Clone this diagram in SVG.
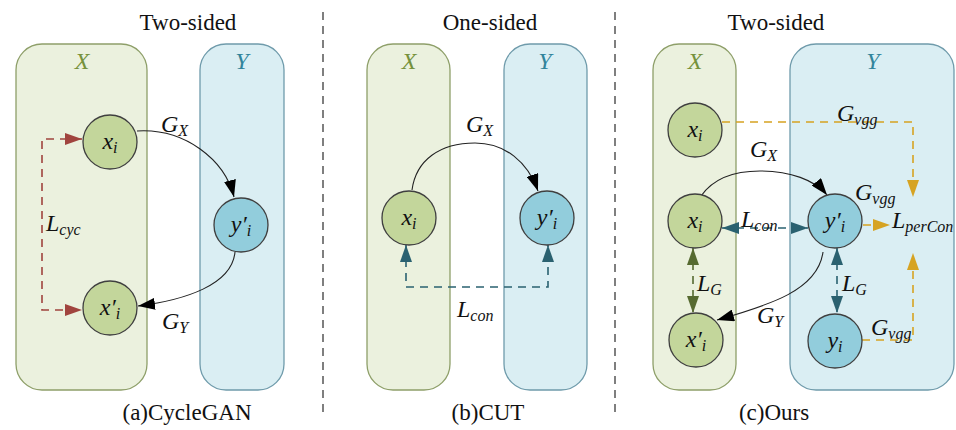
<svg xmlns="http://www.w3.org/2000/svg" width="956" height="430" viewBox="0 0 956 430">
  <style>
    .title { font-family: "Liberation Serif", "Times New Roman", serif; font-size: 23px; fill: #111; text-anchor: middle; }
    .math { font-family: "Liberation Serif", "Times New Roman", serif; font-style: italic; font-size: 24px; fill: #111; }
    .mid { text-anchor: middle; }
    .sub { font-size: 16px; }
    .boxX { fill: #ebf1de; stroke: #8e9f69; stroke-width: 1.3; }
    .boxY { fill: #daeef3; stroke: #6f9bab; stroke-width: 1.3; }
    .lblX { fill: #76923c; text-anchor: middle; }
    .lblY { fill: #31849b; text-anchor: middle; }
    .nodeG { fill: #c3d69b; stroke: #3f3f3f; stroke-width: 1.3; }
    .nodeB { fill: #92cddc; stroke: #3f3f3f; stroke-width: 1.3; }
    .gen { fill: none; stroke: #222; stroke-width: 1.1; marker-end: url(#arrBlack); }
    .cyc { fill: none; stroke: #a0443e; stroke-width: 1.6; stroke-dasharray: 8 6; }
    .con { fill: none; stroke: #2a6170; stroke-width: 1.6; stroke-dasharray: 8 6; }
    .lg { fill: none; stroke: #566a30; stroke-width: 1.6; stroke-dasharray: 8 6; }
    .vgg { fill: none; stroke: #d6a322; stroke-width: 1.6; stroke-dasharray: 8 6; }
    .divider { stroke: #555; stroke-width: 1.5; stroke-dasharray: 8 6; }
  </style>
  <defs>
    <marker id="arrBlack" viewBox="0 0 17 12" refX="17" refY="6" markerWidth="17" markerHeight="12" markerUnits="userSpaceOnUse" orient="auto-start-reverse">
      <path d="M0,0 L17,6 L0,12 z" fill="#000"/>
    </marker>
    <marker id="arrRed" viewBox="0 0 17 12" refX="17" refY="6" markerWidth="17" markerHeight="12" markerUnits="userSpaceOnUse" orient="auto-start-reverse">
      <path d="M0,0 L17,6 L0,12 z" fill="#a0443e"/>
    </marker>
    <marker id="arrTeal" viewBox="0 0 17 12" refX="17" refY="6" markerWidth="17" markerHeight="12" markerUnits="userSpaceOnUse" orient="auto-start-reverse">
      <path d="M0,0 L17,6 L0,12 z" fill="#2a6170"/>
    </marker>
    <marker id="arrOlive" viewBox="0 0 17 12" refX="17" refY="6" markerWidth="17" markerHeight="12" markerUnits="userSpaceOnUse" orient="auto-start-reverse">
      <path d="M0,0 L17,6 L0,12 z" fill="#566a30"/>
    </marker>
    <marker id="arrGold" viewBox="0 0 17 12" refX="17" refY="6" markerWidth="17" markerHeight="12" markerUnits="userSpaceOnUse" orient="auto-start-reverse">
      <path d="M0,0 L17,6 L0,12 z" fill="#d6a322"/>
    </marker>
  </defs>

  <rect width="956" height="430" fill="#fff"/>

  <!-- panel dividers -->
  <g id="dividers">
    <line class="divider" x1="323" y1="12" x2="323" y2="418"/>
    <line class="divider" x1="615" y1="12" x2="615" y2="418"/>
  </g>

  <!-- ===== (a) CycleGAN ===== -->
  <g id="panel-a">
    <text class="title" x="188" y="30">Two-sided</text>
    <rect id="a-domX" class="boxX" x="16" y="44" width="131" height="346" rx="26"/>
    <rect id="a-domY" class="boxY" x="200" y="44" width="84" height="346" rx="26"/>
    <text class="math lblX" x="82" y="69">X</text>
    <text class="math lblY" x="242" y="69">Y</text>

    <g id="a-connectors">
      <path class="gen" d="M137,131 C185,128 225,160 234,197"/>
      <path class="gen" d="M235,252 C232,285 185,300 138,306"/>
      <path class="cyc" d="M82,139 H42 V310 H82" marker-start="url(#arrRed)" marker-end="url(#arrRed)"/>
      <text class="math" x="161" y="132">G<tspan class="sub" dy="4">X</tspan></text>
      <text class="math" x="162" y="329">G<tspan class="sub" dy="4">Y</tspan></text>
      <text class="math" x="46" y="231">L<tspan class="sub" dy="4">cyc</tspan></text>
    </g>

    <g id="a-xi">
      <circle class="nodeG" cx="110" cy="142" r="27"/>
      <text class="math mid" x="110" y="149">x<tspan class="sub" dy="4">i</tspan></text>
    </g>
    <g id="a-yi-prime">
      <circle class="nodeB" cx="241" cy="225" r="27"/>
      <text class="math mid" x="241" y="232">y′<tspan class="sub" dy="4">i</tspan></text>
    </g>
    <g id="a-xi-prime">
      <circle class="nodeG" cx="110" cy="308" r="27"/>
      <text class="math mid" x="110" y="315">x′<tspan class="sub" dy="4">i</tspan></text>
    </g>
    <text class="title" x="187" y="420">(a)CycleGAN</text>
  </g>

  <!-- ===== (b) CUT ===== -->
  <g id="panel-b">
    <text class="title" x="490" y="30">One-sided</text>
    <rect id="b-domX" class="boxX" x="367" y="44" width="83" height="346" rx="26"/>
    <rect id="b-domY" class="boxY" x="504" y="44" width="83" height="346" rx="26"/>
    <text class="math lblX" x="409" y="69">X</text>
    <text class="math lblY" x="545" y="69">Y</text>

    <g id="b-connectors">
      <path class="gen" d="M412,190 C416,160 440,143 475,143 C505,143 528,162 538,191"/>
      <path class="con" d="M406,245 V287 H548 V245" marker-start="url(#arrTeal)" marker-end="url(#arrTeal)"/>
      <text class="math" x="466" y="132">G<tspan class="sub" dy="4">X</tspan></text>
      <text class="math" x="457" y="317">L<tspan class="sub" dy="4">con</tspan></text>
    </g>

    <g id="b-xi">
      <circle class="nodeG" cx="409" cy="218" r="27"/>
      <text class="math mid" x="409" y="225">x<tspan class="sub" dy="4">i</tspan></text>
    </g>
    <g id="b-yi-prime">
      <circle class="nodeB" cx="547" cy="218" r="27"/>
      <text class="math mid" x="547" y="225">y′<tspan class="sub" dy="4">i</tspan></text>
    </g>
    <text class="title" x="488" y="420">(b)CUT</text>
  </g>

  <!-- ===== (c) Ours ===== -->
  <g id="panel-c">
    <text class="title" x="776" y="30">Two-sided</text>
    <rect id="c-domX" class="boxX" x="653" y="44" width="83" height="346" rx="26"/>
    <rect id="c-domY" class="boxY" x="790" y="44" width="164" height="346" rx="26"/>
    <text class="math lblX" x="695" y="69">X</text>
    <text class="math lblY" x="873" y="69">Y</text>

    <g id="c-connectors">
      <path class="vgg" d="M722,122 H913 V197" marker-end="url(#arrGold)"/>
      <path class="vgg" d="M862,340 H913 V253" marker-end="url(#arrGold)"/>
      <path class="vgg" d="M863,225 H890" marker-end="url(#arrGold)"/>
      <path class="gen" d="M701,196 C715,176 740,171 760,171 C790,171 815,180 827,195"/>
      <path class="gen" d="M823,252 C818,290 770,305 717,320"/>
      <path class="con" d="M722,228 H808" marker-start="url(#arrTeal)" marker-end="url(#arrTeal)"/>
      <path class="lg" d="M693,248 V313" marker-start="url(#arrOlive)" marker-end="url(#arrOlive)"/>
      <path class="con" d="M837,248 V313" marker-start="url(#arrTeal)" marker-end="url(#arrTeal)"/>

      <text class="math" x="837" y="121">G<tspan class="sub" dy="4">vgg</tspan></text>
      <text class="math" x="750" y="157">G<tspan class="sub" dy="4">X</tspan></text>
      <text class="math" x="855" y="200">G<tspan class="sub" dy="4">vgg</tspan></text>
      <text class="math" x="741" y="227">L<tspan class="sub" dy="4">con</tspan></text>
      <text class="math" x="892" y="228">L<tspan class="sub" dy="4">perCon</tspan></text>
      <text class="math" x="697" y="291">L<tspan class="sub" dy="4">G</tspan></text>
      <text class="math" x="842" y="291">L<tspan class="sub" dy="4">G</tspan></text>
      <text class="math" x="757" y="323">G<tspan class="sub" dy="4">Y</tspan></text>
      <text class="math" x="871" y="335">G<tspan class="sub" dy="4">vgg</tspan></text>
    </g>

    <g id="c-xi-top">
      <circle class="nodeG" cx="695" cy="130" r="27"/>
      <text class="math mid" x="695" y="137">x<tspan class="sub" dy="4">i</tspan></text>
    </g>
    <g id="c-xi">
      <circle class="nodeG" cx="695" cy="221" r="27"/>
      <text class="math mid" x="695" y="228">x<tspan class="sub" dy="4">i</tspan></text>
    </g>
    <g id="c-xi-prime">
      <circle class="nodeG" cx="696" cy="340" r="27"/>
      <text class="math mid" x="696" y="347">x′<tspan class="sub" dy="4">i</tspan></text>
    </g>
    <g id="c-yi-prime">
      <circle class="nodeB" cx="835" cy="221" r="27"/>
      <text class="math mid" x="835" y="228">y′<tspan class="sub" dy="4">i</tspan></text>
    </g>
    <g id="c-yi">
      <circle class="nodeB" cx="835" cy="341" r="27"/>
      <text class="math mid" x="835" y="348">y<tspan class="sub" dy="4">i</tspan></text>
    </g>
    <text class="title" x="774" y="420">(c)Ours</text>
  </g>
</svg>
